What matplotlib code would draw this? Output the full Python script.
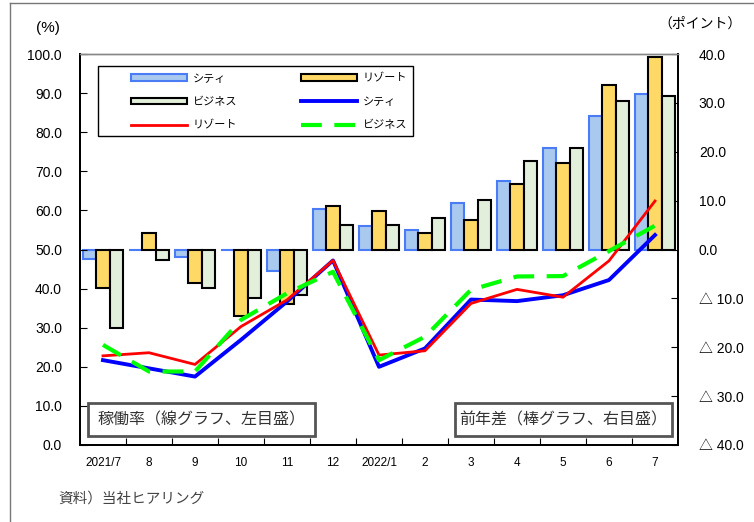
import matplotlib
matplotlib.use('Agg')
import matplotlib.pyplot as plt
import numpy as np
from matplotlib.patches import Patch, Rectangle
from matplotlib.lines import Line2D
import matplotlib.ticker as ticker

plt.rcParams['font.family'] = ['Liberation Sans', 'Noto Sans CJK JP', 'DejaVu Sans']

# months
months = ['2021/7', '8', '9', '10', '11', '12', '2022/1', '2', '3', '4', '5', '6', '7']

# occupancy rate (%), left axis
city_rate = [21.7, 19.6, 17.5, 26.9, 36.7, 47.2, 20.0, 24.7, 37.2, 36.8, 38.3, 42.2, 53.7]
resort_rate = [22.8, 23.6, 20.6, 30.3, 37.1, 47.2, 23.0, 24.1, 36.2, 39.8, 37.8, 47.1, 62.4]
business_rate = [25.6, 18.8, 18.8, 32.0, 38.8, 44.3, 21.7, 27.7, 39.7, 43.1, 43.2, 49.6, 56.1]

# year-on-year difference (points), right axis
city_diff = [-1.9, 0.0, -1.5, -0.1, -4.4, 8.2, 4.8, 4.0, 9.5, 14.0, 20.7, 27.4, 31.8]
resort_diff = [-7.9, 3.4, -6.9, -13.6, -11.1, 8.8, 7.9, 3.3, 6.1, 13.5, 17.7, 33.7, 39.3]
business_diff = [-16.1, -2.1, -7.9, -9.9, -9.3, 5.0, 5.0, 6.5, 10.2, 18.1, 20.7, 30.4, 31.5]

fig = plt.figure(figsize=(7.54, 5.22), dpi=100)
ax = fig.add_axes([80/754, 77/522, 598/754, 391/522])
x = np.arange(len(months))
w = 0.293

# bars (right scale)
ax.bar(x - w, city_diff, w, color='#a9c9ef', edgecolor='#4a7df5', linewidth=1.5, zorder=2)
ax.bar(x, resort_diff, w, color='#ffd966', edgecolor='black', linewidth=1.5, zorder=2)
ax.bar(x + w, business_diff, w, color='#e2efda', edgecolor='black', linewidth=1.5, zorder=2)
ax.set_ylim(-40, 40)
ax.set_xlim(-0.5, len(months) - 0.5)

# x ticks: marks between months, labels at centres
ax.set_xticks(np.arange(0.5, len(months) - 1, 1))
ax.set_xticklabels([])
ax.tick_params(axis='x', direction='in', length=5)
ax.set_xticks(x, minor=True)
ax.set_xticklabels(months, minor=True, family=['Liberation Sans Narrow', 'Liberation Sans'], fontsize=8.5)
ax.tick_params(axis='x', which='minor', length=0, pad=9)

# lines (left scale)
ax2 = ax.twinx()
ax2.yaxis.tick_left()
ax2.yaxis.set_label_position('left')
ax2.plot(x, city_rate, color='#0000ff', linewidth=2.8, zorder=3)
ax2.plot(x, resort_rate, color='#ff0000', linewidth=2.0, zorder=4)
ax2.plot(x, business_rate, color='#00ff00', linewidth=3.0, dashes=(5, 3), zorder=5)
ax2.set_ylim(0, 100)
ax2.set_yticks(np.arange(0, 101, 10))
ax2.yaxis.set_major_formatter(ticker.FormatStrFormatter('%.1f'))
ax2.tick_params(axis='y', direction='in', length=5, pad=13, labelsize=10)

# right scale on the bar axes (after twinx, which resets it)
ax.yaxis.tick_right()
ax.yaxis.set_label_position('right')
ax.set_yticks(np.arange(-40, 41, 10))


def diff_fmt(v, pos):
    if abs(v) < 1e-9:
        return '0.0'
    if v < 0:
        return f'△ {abs(v):.1f}'
    return f'{v:.1f}'


ax.yaxis.set_major_formatter(ticker.FuncFormatter(diff_fmt))
ax.tick_params(axis='y', direction='in', length=5, pad=15, labelsize=10)

for a in (ax, ax2):
    for s in ('left', 'right', 'bottom'):
        a.spines[s].set_color('black')
        a.spines[s].set_linewidth(1.3)
    a.spines['top'].set_color('#888888')
    a.spines['top'].set_linewidth(1.0)

# legend
frame = Rectangle((0.0301, 0.790), 0.5268, 0.179, transform=ax2.transAxes,
                  facecolor='white', edgecolor='black', linewidth=1.0, zorder=6)
ax2.add_patch(frame)
handles = [
    Patch(facecolor='#a9c9ef', edgecolor='#4a7df5', linewidth=1.5),
    Patch(facecolor='#e2efda', edgecolor='black', linewidth=1.5),
    Line2D([], [], color='#ff0000', linewidth=2.0),
    Patch(facecolor='#ffd966', edgecolor='black', linewidth=1.5),
    Line2D([], [], color='#0000ff', linewidth=2.8),
    Line2D([], [], color='#00ff00', linewidth=3.0, dashes=(5, 3)),
]
labels = ['シティ', 'ビジネス', 'リゾート', 'リゾート', 'シティ', 'ビジネス']
leg = ax2.legend(handles, labels, ncol=2, loc='upper left', bbox_to_anchor=(0.086, 0.950),
                 frameon=False, fontsize=8, borderpad=0, borderaxespad=0,
                 handlelength=5.0, handleheight=0.55, handletextpad=0.5,
                 labelspacing=1.2, columnspacing=5.8)
leg.set_zorder(7)

# annotation boxes
for x0, x1, txt in [(88, 315, '稼働率（線グラフ、左目盛）'), (455, 672, '前年差（棒グラフ、右目盛）')]:
    bx0 = (x0 - 80) / 598
    bw = (x1 - x0) / 598
    by0 = (445 - 436) / 391
    bh = (436 - 403) / 391
    ax2.add_patch(Rectangle((bx0, by0), bw, bh, transform=ax2.transAxes,
                            facecolor='white', edgecolor='#555555', linewidth=2.0, zorder=6))
    ax2.text(bx0 + bw / 2, by0 + bh / 2, txt, transform=ax2.transAxes, ha='center', va='center',
             fontsize=11.5, color='#333333', family=['Noto Sans CJK JP'], zorder=7)

# unit labels and source
fig.text(48/754, 1 - 28/522, '(%)', ha='center', va='center', fontsize=11)
fig.text(700/754, 1 - 24/522, '（ポイント）', ha='center', va='center', fontsize=10,
         family=['Noto Sans CJK JP'])
fig.text(58/754, 1 - 499/522, '資料）当社ヒアリング', ha='left', va='center', fontsize=10.5,
         color='#444444', family=['Noto Sans CJK JP'])

# outer border
fig.add_artist(Line2D([10/754, 10/754], [0, 1 - 3/522], color='#777777', linewidth=1.0))
fig.add_artist(Line2D([10/754, 1], [1 - 3/522, 1 - 3/522], color='#777777', linewidth=1.0))

fig.savefig('out.png', dpi=100)
